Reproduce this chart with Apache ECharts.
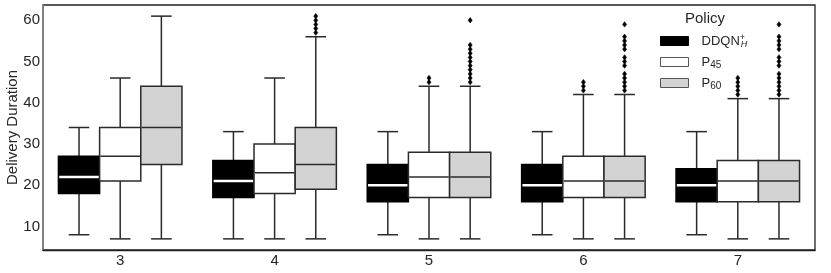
<!DOCTYPE html>
<html>
<head>
<meta charset="utf-8">
<script src="https://cdn.jsdelivr.net/npm/echarts@6/dist/echarts.min.js"></script>
<style>html,body{margin:0;padding:0;background:#fff}#c{width:831px;height:273px}</style>
</head>
<body>
<div id="c"></div>
<script>
const categories = ['3', '4', '5', '6', '7'];
const policies = ['DDQN_H+', 'P45', 'P60'];
// [min, q1, median, q3, max]
const ddqnStats = [[8, 18, 22, 27, 34], [7, 17, 21, 26, 33], [8, 16, 20, 25, 33], [8, 16, 20, 25, 33], [8, 16, 20, 24, 33]];
const p45Stats = [[7, 21, 27, 34, 46], [7, 18, 23, 30, 46], [7, 17, 22, 28, 44], [7, 17, 21, 27, 42], [7, 16, 21, 26, 41]];
const p60Stats = [[7, 25, 34, 44, 61], [7, 19, 25, 34, 56], [7, 17, 22, 28, 44], [7, 17, 21, 27, 42], [7, 16, 21, 26, 41]];
const ddqnOutliers = [[], [], [], [], []];
const p45Outliers = [[], [], [45, 46], [43, 44, 45], [42, 43, 44, 45, 46]];
const p60Outliers = [[], [57, 58, 59, 60, 61], [45, 46, 47, 48, 49, 50, 51, 52, 53, 54, 60], [43, 44, 45, 46, 47, 49, 50, 51, 53, 54, 55, 56, 59], [42, 43, 44, 45, 46, 47, 49, 50, 51, 53, 54, 55, 56, 59]];
const yTicks = [10, 20, 30, 40, 50, 60];
const yMin = 4.3, yMax = 63.7;

const FONT = "'Liberation Sans', Arial, sans-serif";
const TXT = '#262626';
const LINE = '#2a2a2a';
const styles = [
  { fill: '#000000', stroke: '#000000', median: '#ffffff' },
  { fill: '#ffffff', stroke: LINE, median: LINE },
  { fill: '#d3d3d3', stroke: LINE, median: LINE }
];
const statsList = [ddqnStats, p45Stats, p60Stats];
const outlierList = [ddqnOutliers, p45Outliers, p60Outliers];

function makeRender(k) {
  return function (params, api) {
    const cat = api.value(0);
    const band = api.size([1, 0])[0];
    const w = band * 0.8 / 3;
    const cx = api.coord([cat, yMin])[0] + (k - 1) * w;
    const Y = v => api.coord([cat, v])[1];
    const vMin = api.value(1), q1 = api.value(2), med = api.value(3), q3 = api.value(4), vMax = api.value(5);
    const st = styles[k];
    const ls = { stroke: LINE, lineWidth: 1.5 };
    const children = [];
    children.push({ type: 'line', shape: { x1: cx, y1: Y(vMin), x2: cx, y2: Y(q1) }, style: ls });
    children.push({ type: 'line', shape: { x1: cx, y1: Y(q3), x2: cx, y2: Y(vMax) }, style: ls });
    children.push({ type: 'line', shape: { x1: cx - w / 4, y1: Y(vMin), x2: cx + w / 4, y2: Y(vMin) }, style: ls });
    children.push({ type: 'line', shape: { x1: cx - w / 4, y1: Y(vMax), x2: cx + w / 4, y2: Y(vMax) }, style: ls });
    children.push({ type: 'rect', shape: { x: cx - w / 2, y: Y(q3), width: w, height: Y(q1) - Y(q3) }, style: { fill: st.fill, stroke: st.stroke, lineWidth: 1.5 } });
    children.push({ type: 'line', shape: { x1: cx - w / 2 + 0.8, y1: Y(med), x2: cx + w / 2 - 0.8, y2: Y(med) }, style: { stroke: st.median, lineWidth: k === 0 ? 2.5 : 1.5 } });
    const outs = outlierList[k][params.dataIndex] || [];
    outs.forEach(v => {
      const py = Y(v);
      children.push({ type: 'polygon', shape: { points: [[cx, py - 2.7], [cx + 2, py], [cx, py + 2.7], [cx - 2, py]] }, style: { fill: '#000', stroke: '#000', lineWidth: 0.6 } });
    });
    return { type: 'group', children: children };
  };
}

const series = policies.map((name, k) => ({
  name: name,
  type: 'custom',
  renderItem: makeRender(k),
  itemStyle: { color: styles[k].fill, borderColor: k === 0 ? '#000' : '#555', borderWidth: 1 },
  encode: { x: 0, y: [1, 2, 3, 4, 5] },
  data: statsList[k].map((s, i) => [i].concat(s)),
  clip: false
}));

const chart = echarts.init(document.getElementById('c'), null, { renderer: 'canvas' });
chart.setOption({
  animation: false,
  backgroundColor: '#fff',
  textStyle: { fontFamily: FONT },
  grid: { left: 43, right: 16, top: 5, bottom: 23, show: true, borderColor: '#222', borderWidth: 1.3, containLabel: false, outerBoundsMode: 'none' },
  title: { text: 'Policy', left: 685, top: 11, padding: 0, textStyle: { fontFamily: FONT, fontSize: 15, fontWeight: 'normal', color: TXT } },
  legend: {
    orient: 'vertical', left: 660, top: 33, padding: 0, itemWidth: 28, itemHeight: 9, itemGap: 6.5,
    icon: 'rect',
    data: [
      { name: 'DDQN_H+', itemStyle: { color: '#000', borderColor: '#000', borderWidth: 1 } },
      { name: 'P45', itemStyle: { color: '#fff', borderColor: '#555', borderWidth: 1 } },
      { name: 'P60', itemStyle: { color: '#d3d3d3', borderColor: '#555', borderWidth: 1 } }
    ],
    formatter: function (n) {
      if (n === 'DDQN_H+') return '{m|DDQN}{sp|+}{sb|H}';
      if (n === 'P45') return '{m|P}{sb2|45}';
      return '{m|P}{sb2|60}';
    },
    textStyle: {
      color: TXT, padding: [0, 0, 0, 8],
      rich: {
        m: { fontFamily: FONT, fontSize: 13, color: TXT, lineHeight: 16 },
        sp: { fontFamily: FONT, fontSize: 9, color: TXT, lineHeight: 11, verticalAlign: 'top', width: 1 },
        sb: { fontFamily: FONT, fontSize: 9, fontStyle: 'italic', color: TXT, lineHeight: 11, verticalAlign: 'bottom' },
        sb2: { fontFamily: FONT, fontSize: 10, color: TXT, lineHeight: 11, verticalAlign: 'bottom' }
      }
    }
  },
  xAxis: {
    type: 'category', data: categories, boundaryGap: true,
    axisTick: { show: false },
    axisLine: { show: true, lineStyle: { color: '#222', width: 1.3 } },
    axisLabel: { fontFamily: FONT, fontSize: 15, color: TXT, margin: 3 },
    splitLine: { show: false }
  },
  yAxis: {
    type: 'value', min: yMin, max: yMax,
    name: 'Delivery Duration', nameLocation: 'middle', nameGap: 23, nameMoveOverlap: false,
    nameTextStyle: { fontFamily: FONT, fontSize: 15, color: TXT },
    axisLine: { show: true, lineStyle: { color: '#888', width: 1.5 } },
    axisTick: { show: false, customValues: yTicks },
    axisLabel: { fontFamily: FONT, fontSize: 15, color: TXT, margin: 3, customValues: yTicks },
    splitLine: { show: false }
  },
  series: series
});
</script>
</body>
</html>
